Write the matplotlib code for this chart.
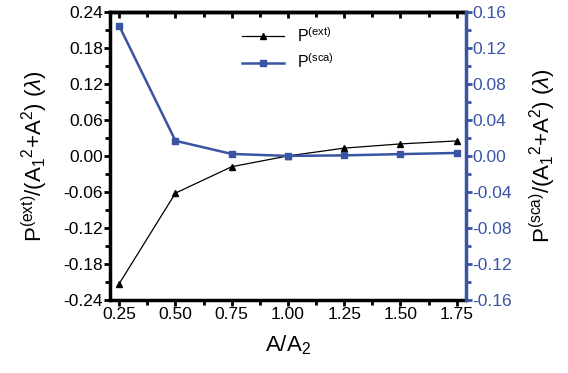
import numpy as np
import matplotlib.pyplot as plt
from matplotlib.ticker import MultipleLocator

plt.rcParams['font.family'] = ['Liberation Sans', 'DejaVu Sans']
plt.rcParams['mathtext.fontset'] = 'custom'
plt.rcParams['mathtext.rm'] = 'Liberation Sans'
plt.rcParams['mathtext.it'] = 'Liberation Sans:italic'

ratio = [0.25, 0.50, 0.75, 1.00, 1.25, 1.50, 1.75]
p_ext = [-0.213, -0.062, -0.018, 0.0, 0.013, 0.020, 0.025]
p_sca = [0.1445, 0.0168, 0.0022, 0.0, 0.0006, 0.0020, 0.0033]

ext_ticks = np.arange(-0.24, 0.2401, 0.06)
sca_ticks = np.arange(-0.16, 0.1601, 0.04)

blue = '#3a54a4'

fig = plt.figure(figsize=(5.68, 3.73), dpi=100)
ax = fig.add_axes([0.194, 0.196, 0.626, 0.772])
ax2 = ax.twinx()

l1, = ax.plot(ratio, p_ext, color='black', lw=0.9, marker='^', ms=5,
              label='P$^{\\mathrm{(ext)}}$')
l2, = ax2.plot(ratio, p_sca, color=blue, lw=1.8, marker='s', ms=4.5,
               label='P$^{\\mathrm{(sca)}}$')

ax.set_xlim(0.21, 1.79)
ax.set_ylim(-0.24, 0.24)
ax2.set_ylim(-0.16, 0.16)

ax.set_xticks(ratio)
ax.set_xticklabels(['%.2f' % r for r in ratio])
ax.xaxis.set_minor_locator(MultipleLocator(0.125))
ax.set_yticks(ext_ticks)
ax.set_yticklabels(['%.2f' % v for v in ext_ticks])
ax.yaxis.set_minor_locator(MultipleLocator(0.03))
ax2.set_yticks(sca_ticks)
ax2.set_yticklabels(['%.2f' % v for v in sca_ticks])
ax2.yaxis.set_minor_locator(MultipleLocator(0.02))

for s in ['left', 'bottom', 'top']:
    ax.spines[s].set_linewidth(2.5)
ax.spines['right'].set_visible(False)
for s in ['left', 'bottom', 'top']:
    ax2.spines[s].set_visible(False)
ax2.spines['right'].set_linewidth(2.5)
ax2.spines['right'].set_color(blue)

ax.tick_params(axis='both', which='major', direction='out', length=4, width=2,
               labelsize=12.5, pad=1)
ax.tick_params(axis='both', which='minor', direction='out', length=3.5, width=2)
ax2.tick_params(axis='y', which='major', direction='out', length=4, width=2,
                colors=blue, labelsize=12.5, pad=1)
ax2.tick_params(axis='y', which='minor', direction='out', length=3.5, width=2,
                colors=blue)

# top axis: inward ticks, no labels
top = ax.secondary_xaxis('top')
top.set_xticks(ratio)
top.xaxis.set_minor_locator(MultipleLocator(0.125))
top.tick_params(which='major', direction='in', length=4, width=2, labeltop=False)
top.tick_params(which='minor', direction='in', length=3.5, width=2)
top.spines['top'].set_linewidth(2.5)

ax.set_xlabel('A/A$_2$', fontsize=16, labelpad=8)
ax.set_ylabel('P$^{\\mathrm{(ext)}}$/(A$_1$$^2$+A$^2$) ($\\lambda$)',
              fontsize=16, labelpad=10)
ax2.set_ylabel('P$^{\\mathrm{(sca)}}$/(A$_1$$^2$+A$^2$) ($\\lambda$)',
               fontsize=16, labelpad=11)

ax.legend(handles=[l1, l2], loc='upper left', bbox_to_anchor=(0.34, 0.99),
          frameon=False, fontsize=11.5, handlelength=2.6, borderpad=0.2,
          labelspacing=0.5)

plt.savefig('out.png')
